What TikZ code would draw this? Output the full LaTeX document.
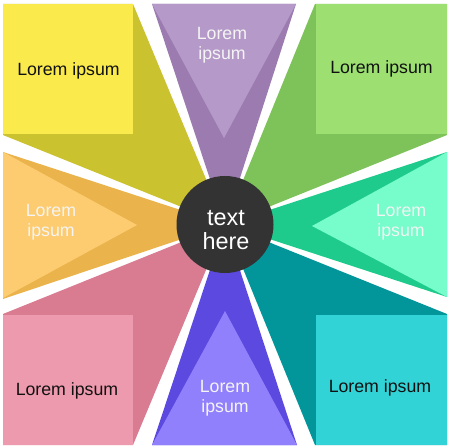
\documentclass[tikz,border=0pt]{standalone}
\usepackage{fontspec}
\setmainfont{Liberation Sans}
\definecolor{yellowL}{HTML}{FBEA4B}
\definecolor{yellowD}{HTML}{CBC230}
\definecolor{purpleL}{HTML}{B59AC9}
\definecolor{purpleD}{HTML}{9C7CB0}
\definecolor{greenL}{HTML}{9DE071}
\definecolor{greenD}{HTML}{7EC25A}
\definecolor{mintL}{HTML}{77FCCB}
\definecolor{mintD}{HTML}{1ECB8D}
\definecolor{tealL}{HTML}{31D3D7}
\definecolor{tealD}{HTML}{02959A}
\definecolor{blueL}{HTML}{9180FC}
\definecolor{blueD}{HTML}{5B49E0}
\definecolor{pinkL}{HTML}{EE9AAE}
\definecolor{pinkD}{HTML}{D97B91}
\definecolor{orangeL}{HTML}{FDCC70}
\definecolor{orangeD}{HTML}{EAB34C}
\definecolor{hub}{HTML}{333333}
\definecolor{darktext}{HTML}{111111}
\definecolor{lighttext}{HTML}{F4F4F4}
\begin{document}
\begin{tikzpicture}[x=1bp,y=-1bp,
  lbl/.style={font=\fontsize{17.8}{20.5}\selectfont, align=center, inner sep=0pt},
  darklbl/.style={lbl, text=darktext},
  lightlbl/.style={lbl, text=lighttext},
  hublbl/.style={font=\fontsize{23.5}{25}\selectfont, align=center, inner sep=0pt, text=white}]
\useasboundingbox (0,0) rectangle (450,447);
\fill[white] (0,0) rectangle (450,447);
\coordinate (C) at (225,224.5);
% top-left yellow
\fill[yellowD] (C) -- (3,135) -- (3,4) -- (133,4) -- cycle;
\fill[yellowL] (3,4) rectangle (133,134.5);
% top purple
\fill[purpleD] (C) -- (152,4) -- (296,4) -- cycle;
\fill[purpleL] (152,4) -- (296,4) -- (224,138) -- cycle;
% top-right green
\fill[greenD] (C) -- (315,4) -- (447,4) -- (447,135) -- cycle;
\fill[greenL] (315.5,4) rectangle (447,134.5);
% right mint
\fill[mintD] (C) -- (447,152) -- (447,297) -- cycle;
\fill[mintL] (447,152) -- (447,297) -- (312,226) -- cycle;
% bottom-right teal
\fill[tealD] (C) -- (447,314) -- (447,445) -- (315,445) -- cycle;
\fill[tealL] (315.5,314.5) rectangle (447,445);
% bottom blue
\fill[blueD] (C) -- (297,445) -- (152,445) -- cycle;
\fill[blueL] (297,445) -- (152,445) -- (225,311) -- cycle;
% bottom-left pink
\fill[pinkD] (C) -- (133,445) -- (3,445) -- (3,314) -- cycle;
\fill[pinkL] (3,314.5) rectangle (133,445);
% left orange
\fill[orangeD] (C) -- (3,299) -- (3,152) -- cycle;
\fill[orangeL] (3,152) -- (3,298) -- (137,225) -- cycle;
% hub
\fill[hub] (C) circle[radius=48.5];
\node[hublbl] (hubtext) at (226,230) {text\\here};
% labels
\node[darklbl] (tl) at (68.5,71) {Lorem ipsum};
\node[darklbl] (tr) at (381.5,69) {Lorem ipsum};
\node[darklbl] (bl) at (67,391) {Lorem ipsum};
\node[darklbl] (br) at (380,388) {Lorem ipsum};
\node[lightlbl] (top) at (222,45) {Lorem\\ipsum};
\node[lightlbl] (left) at (51,222) {Lorem\\ipsum};
\node[lightlbl] (right) at (401,222) {Lorem\\ipsum};
\node[lightlbl] (bottom) at (225,398) {Lorem\\ipsum};
\end{tikzpicture}
\end{document}
